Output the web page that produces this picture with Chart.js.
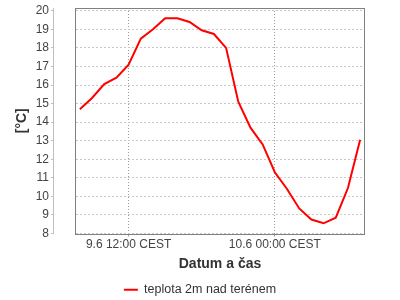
<!DOCTYPE html>
<html>
<head>
<meta charset="utf-8">
<script src="https://cdn.jsdelivr.net/npm/chart.js@4/dist/chart.umd.min.js"></script>
<style>
  html, body { margin: 0; padding: 0; background: #fff; }
  #wrap { width: 400px; height: 300px; }
</style>
</head>
<body>
<div id="wrap"><canvas id="chart"></canvas></div>
<script>
// hours since 9.6 00:00
const hours = [8, 9, 10, 11, 12, 13, 14, 15, 16, 17, 18, 19, 20, 21, 22, 23, 24, 25, 26, 27, 28, 29, 30, 31];
const temps = [14.7, 15.3, 16.05, 16.4, 17.1, 18.5, 19.0, 19.6, 19.6, 19.4, 18.95, 18.75, 18.0, 15.1, 13.7, 12.8, 11.3, 10.4, 9.35, 8.75, 8.55, 8.85, 10.45, 13.05];

const xTickValues = [12, 24];
const xTickLabels = ['9.6 12:00 CEST', '10.6 00:00 CEST'];
const yTickValues = [8, 9, 10, 11, 12, 13, 14, 15, 16, 17, 18, 19, 20];

const FONT = "'Liberation Sans', Arial, sans-serif";

// grey frame round the plot area
const plotBox = {
    id: 'plotBox',
    beforeDatasetsDraw(chart) {
        const a = chart.chartArea;
        const ctx = chart.ctx;
        ctx.save();
        ctx.strokeStyle = '#808080';
        ctx.lineWidth = 1;
        ctx.strokeRect(Math.round(a.left) + 0.5, Math.round(a.top) + 0.5,
            Math.round(a.right - a.left) - 1, Math.round(a.bottom - a.top));
        ctx.restore();
    }
};

new Chart(document.getElementById('chart'), {
    type: 'line',
    data: {
        datasets: [{
            label: 'teplota 2m nad terénem',
            data: hours.map((h, i) => ({ x: h, y: temps[i] })),
            borderColor: '#ff0000',
            backgroundColor: '#ff0000',
            borderWidth: 2,
            pointRadius: 0,
            tension: 0,
            yAxisID: 'y'
        }]
    },
    options: {
        responsive: true,
        maintainAspectRatio: false,
        animation: false,
        // negative bottom padding pushes the legend a little lower
        layout: { padding: { top: 6, right: 0, left: 0, bottom: -6 } },
        plugins: {
            legend: {
                position: 'bottom',
                labels: {
                    font: { family: FONT, size: 12.5 },
                    color: '#333',
                    boxWidth: 14,
                    boxHeight: 2,
                    padding: 2,
                    generateLabels(chart) {
                        return Chart.defaults.plugins.legend.labels.generateLabels(chart)
                            .map(l => Object.assign(l, { lineWidth: 0 }));
                    }
                }
            },
            tooltip: { enabled: false }
        },
        scales: {
            x: {
                type: 'linear',
                min: 7.6,
                max: 31.4,
                afterBuildTicks: s => { s.ticks = xTickValues.map(v => ({ value: v })); },
                afterFit: s => { s.height = 48; },
                ticks: {
                    callback: (v, i) => xTickLabels[i],
                    font: { family: FONT, size: 12 },
                    color: '#444',
                    maxRotation: 0,
                    autoSkip: false,
                    padding: 1
                },
                grid: { color: '#999', tickColor: '#999', tickLength: 3 },
                border: { display: false, dash: [1, 2] },
                title: {
                    display: true,
                    text: 'Datum a čas',
                    font: { family: FONT, size: 14, weight: 'bold' },
                    color: '#333',
                    padding: { top: 2, bottom: 9 }
                }
            },
            y: {
                type: 'linear',
                position: 'left',
                weight: 1,
                min: 8,
                max: 20.15,
                afterBuildTicks: s => { s.ticks = yTickValues.map(v => ({ value: v })); },
                afterFit: s => { s.width = 53; },
                ticks: {
                    font: { family: FONT, size: 12, lineHeight: 1 },
                    color: '#444',
                    padding: 2
                },
                grid: { color: '#c8c8c8', tickColor: '#c0c0c0', tickLength: 2 },
                border: { display: true, color: '#c0c0c0', dash: [2, 2] },
                title: {
                    display: true,
                    text: '[°C]',
                    font: { family: FONT, size: 14, weight: 'bold' },
                    color: '#333',
                    padding: { top: 14, bottom: 0 }
                }
            },
            yPad: {
                axis: 'y',
                type: 'linear',
                position: 'left',
                weight: 0,
                afterFit: s => { s.width = 22; },
                ticks: { display: false },
                grid: { display: false, drawTicks: false },
                border: { display: false }
            },
            yRight: {
                axis: 'y',
                type: 'linear',
                position: 'right',
                afterFit: s => { s.width = 35; },
                ticks: { display: false },
                grid: { display: false, drawTicks: false },
                border: { display: false }
            }
        }
    },
    plugins: [plotBox]
});
</script>
</body>
</html>
